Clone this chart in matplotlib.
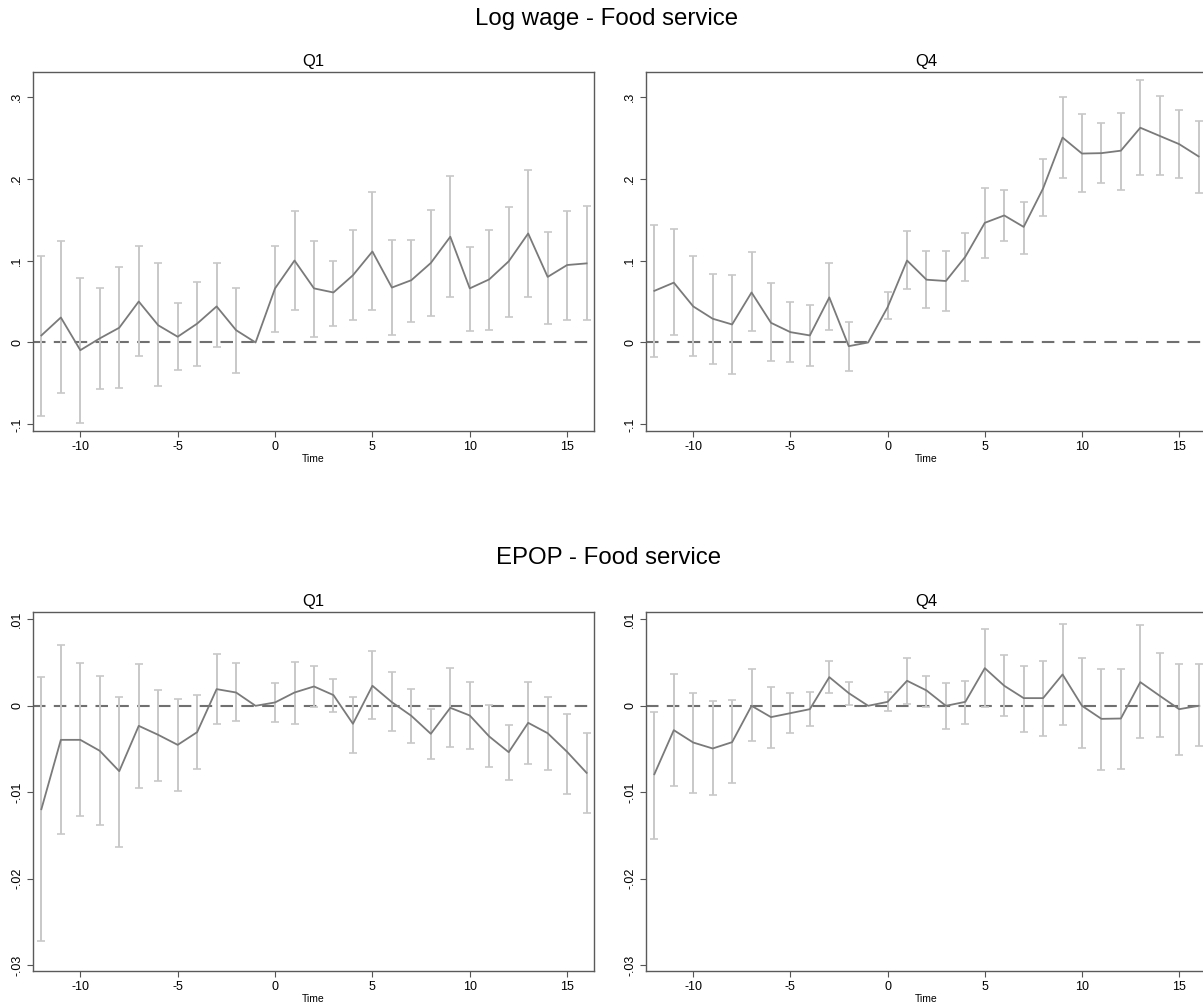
import numpy as np
import matplotlib
matplotlib.use('Agg')
import matplotlib.pyplot as plt

plt.rcParams['font.family'] = ['Liberation Sans', 'DejaVu Sans']
plt.rcParams['axes.unicode_minus'] = False

time = list(range(-12, 17))

# Log wage, Q1
wage_q1 = [0.0086, 0.0305, -0.0094, 0.005, 0.018, 0.050, 0.021, 0.007, 0.023, 0.044, 0.015, 0.0,
           0.066, 0.100, 0.066, 0.061, 0.082, 0.111, 0.067, 0.076, 0.097, 0.129, 0.066, 0.077,
           0.099, 0.133, 0.080, 0.0945, 0.0965]
wage_q1_hi = [0.105, 0.124, 0.079, 0.066, 0.092, 0.118, 0.097, 0.048, 0.074, 0.097, 0.066, np.nan,
              0.118, 0.161, 0.124, 0.099, 0.137, 0.183, 0.125, 0.125, 0.162, 0.203, 0.116, 0.137,
              0.165, 0.211, 0.135, 0.160, 0.166]
wage_q1_lo = [-0.0896, -0.062, -0.098, -0.057, -0.056, -0.017, -0.053, -0.034, -0.029, -0.006, -0.037, np.nan,
              0.013, 0.040, 0.0065, 0.020, 0.027, 0.040, 0.0086, 0.025, 0.032, 0.055, 0.014, 0.015,
              0.031, 0.055, 0.023, 0.027, 0.027]

# Log wage, Q4
wage_q4 = [0.063, 0.073, 0.044, 0.029, 0.022, 0.061, 0.024, 0.0126, 0.0086, 0.055, -0.0045, 0.0,
           0.043, 0.100, 0.0766, 0.075, 0.1047, 0.146, 0.155, 0.141, 0.188, 0.250, 0.2305, 0.231,
           0.234, 0.262, 0.252, 0.242, 0.227]
wage_q4_hi = [0.143, 0.138, 0.1055, 0.084, 0.082, 0.110, 0.072, 0.049, 0.046, 0.0965, 0.025, np.nan,
              0.062, 0.136, 0.111, 0.111, 0.134, 0.188, 0.186, 0.1715, 0.224, 0.300, 0.279, 0.268,
              0.280, 0.3205, 0.301, 0.284, 0.270]
wage_q4_lo = [-0.0175, 0.0086, -0.016, -0.0265, -0.038, 0.0134, -0.023, -0.024, -0.029, 0.0147, -0.035, np.nan,
              0.029, 0.065, 0.0415, 0.038, 0.075, 0.1035, 0.124, 0.108, 0.154, 0.201, 0.183, 0.195,
              0.1865, 0.2045, 0.204, 0.2004, 0.1825]

# EPOP, Q1
epop_q1 = [-0.01197, -0.00394, -0.00394, -0.00521, -0.00757, -0.00232, -0.00336, -0.00452, -0.00305,
           0.00193, 0.00154, 0.0, 0.00039, 0.00154, 0.00224, 0.00124, -0.00208, 0.00232, 0.00042,
           -0.00116, -0.00324, -0.00023, -0.00112, -0.00355, -0.00537, -0.00197, -0.00317, -0.00533,
           -0.00776]
epop_q1_hi = [0.00336, 0.00699, 0.00498, 0.00347, 0.00104, 0.00479, 0.00181, 0.00077, 0.00124,
              0.00595, 0.00494, np.nan, 0.00263, 0.0051, 0.00463, 0.00313, 0.001, 0.00629, 0.00394,
              0.00189, -0.00039, 0.00436, 0.00278, 0.00008, -0.00224, 0.00274, 0.00097, -0.001,
              -0.00317]
epop_q1_lo = [-0.02726, -0.01483, -0.01278, -0.01382, -0.01629, -0.00946, -0.00865, -0.00985, -0.00726,
              -0.00205, -0.00181, np.nan, -0.00193, -0.00208, -0.00015, -0.00073, -0.00552, -0.00154,
              -0.0029, -0.00425, -0.00618, -0.00479, -0.00498, -0.0071, -0.00857, -0.00668, -0.00745,
              -0.01019, -0.01243]

# EPOP, Q4
epop_q4 = [-0.00792, -0.00282, -0.00425, -0.00494, -0.00421, 0.0, -0.00131, -0.00085, -0.00039,
           0.00332, 0.00147, 0.0, 0.00046, 0.0029, 0.00178, 0.0, 0.00046, 0.00436, 0.00232, 0.00089,
           0.00089, 0.00363, 0.0, -0.00151, -0.00147, 0.00274, 0.00116, -0.00039, 0.0]
epop_q4_hi = [-0.00077, 0.00371, 0.00154, 0.0005, 0.00066, 0.00429, 0.00216, 0.00143, 0.00158,
              0.00521, 0.00278, np.nan, 0.00158, 0.00556, 0.00347, 0.00263, 0.00293, 0.00888, 0.00587,
              0.00463, 0.00521, 0.0095, 0.00548, 0.00421, 0.00421, 0.00938, 0.00614, 0.00483, 0.00483]
epop_q4_lo = [-0.01537, -0.00927, -0.01012, -0.01035, -0.00892, -0.00413, -0.00483, -0.00317, -0.00232,
              0.00147, 0.00008, np.nan, -0.00062, 0.00023, -0.00012, -0.00266, -0.00208, -0.00012,
              -0.00116, -0.00301, -0.00347, -0.0022, -0.00486, -0.00741, -0.00726, -0.00378, -0.00363,
              -0.00564, -0.00463]

W, H = 1203, 1006
fig = plt.figure(figsize=(W / 100, H / 100), dpi=100)


def make_ax(left, top, right, bottom):
    return fig.add_axes([left / W, 1 - bottom / H, (right - left) / W, (bottom - top) / H])


def panel(ax, y, lo, hi, title, yticks, ylabels, ylim):
    t = np.array(time)
    y = np.array(y)
    lo = np.array(lo)
    hi = np.array(hi)
    ok = ~np.isnan(lo)
    ax.axhline(0, color='#707070', lw=1.5, ls=(0, (6, 4)), zorder=1)
    ax.errorbar(t[ok], y[ok], yerr=[y[ok] - lo[ok], hi[ok] - y[ok]], fmt='none',
                ecolor='#c8c8c8', elinewidth=1.4, capsize=3, capthick=1.2, zorder=2)
    ax.plot(t, y, color='#7a7a7a', lw=1.3, zorder=3)
    ax.set_xlim(-12.43, 16.38)
    ax.set_ylim(*ylim)
    ax.set_xticks([-10, -5, 0, 5, 10, 15])
    ax.set_yticks(yticks)
    ax.set_yticklabels(ylabels, rotation=90, va='center')
    ax.tick_params(labelsize=9, color='#555555', length=4, width=0.8, pad=3)
    ax.set_title(title, fontsize=12, pad=4)
    ax.set_xlabel('Time', fontsize=7.5, labelpad=1)
    for s in ax.spines.values():
        s.set_color('#5a5a5a')
        s.set_linewidth(1.0)


wage_ticks = [-0.1, 0, 0.1, 0.2, 0.3]
wage_labels = ['-.1', '0', '.1', '.2', '.3']
epop_ticks = [-0.03, -0.02, -0.01, 0, 0.01]
epop_labels = ['-.03', '-.02', '-.01', '0', '.01']

ax1 = make_ax(33, 72, 594, 431)
panel(ax1, wage_q1, wage_q1_lo, wage_q1_hi, 'Q1', wage_ticks, wage_labels, (-0.108, 0.330))
ax2 = make_ax(646, 72, 1206, 431)
panel(ax2, wage_q4, wage_q4_lo, wage_q4_hi, 'Q4', wage_ticks, wage_labels, (-0.108, 0.330))
ax3 = make_ax(33, 612, 594, 971)
panel(ax3, epop_q1, epop_q1_lo, epop_q1_hi, 'Q1', epop_ticks, epop_labels, (-0.0307, 0.01086))
ax4 = make_ax(646, 612, 1206, 971)
panel(ax4, epop_q4, epop_q4_lo, epop_q4_hi, 'Q4', epop_ticks, epop_labels, (-0.0307, 0.01086))

fig.text(607 / W, 1 - 19 / H, 'Log wage - Food service', ha='center', va='center', fontsize=17.3)
fig.text(609 / W, 1 - 558 / H, 'EPOP - Food service', ha='center', va='center', fontsize=17.3)

fig.savefig('out.png', dpi=100, facecolor='white')
